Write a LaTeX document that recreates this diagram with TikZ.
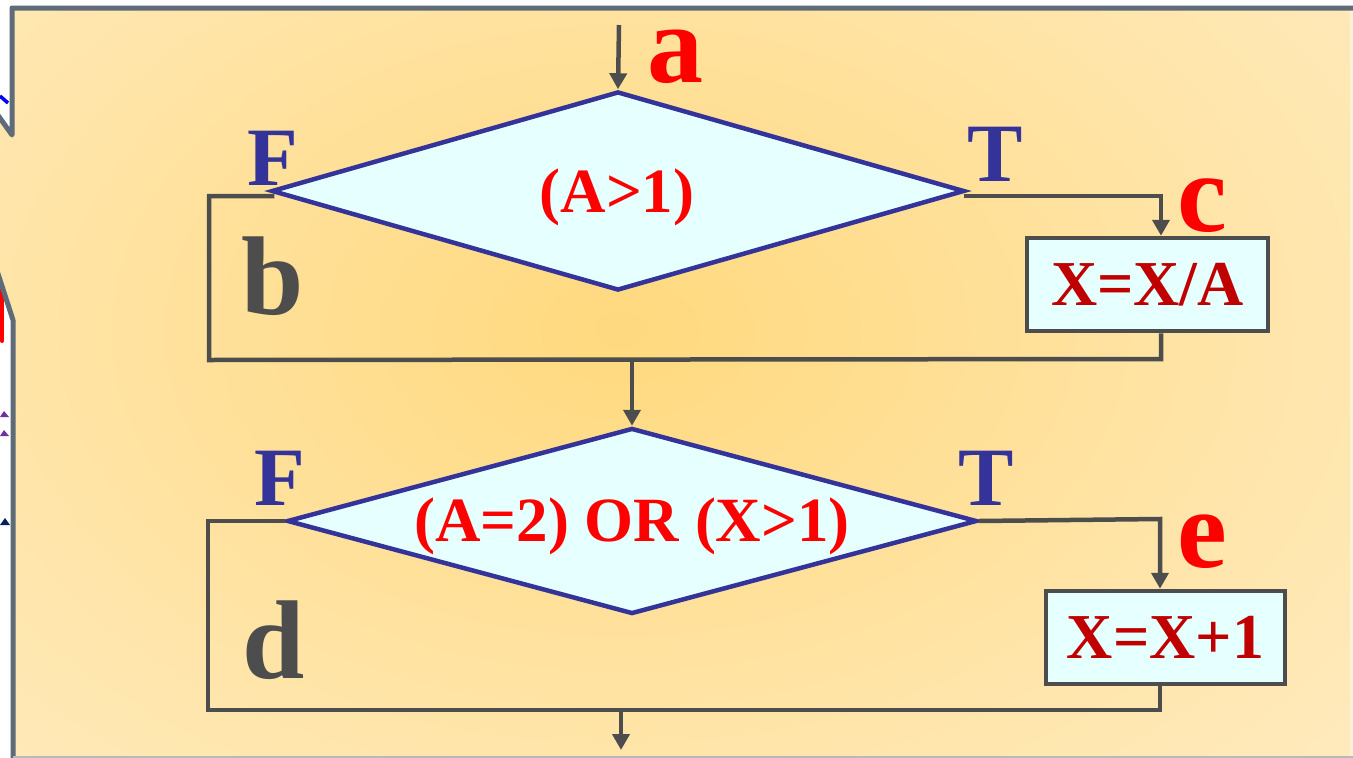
\documentclass[tikz,border=0pt]{standalone}
\usepackage{fontspec}
\setmainfont{Liberation Serif}
\newfontfamily\tms{Liberation Serif}
\usetikzlibrary{arrows.meta,shapes.geometric}
\definecolor{navyb}{HTML}{333399}
\definecolor{dgray}{HTML}{4D4D4D}
\definecolor{framec}{HTML}{5F6B78}
\definecolor{boxfill}{HTML}{E6FFFF}
\definecolor{dred}{HTML}{C00000}
\definecolor{glowin}{HTML}{FFD97E}
\definecolor{glowmid}{HTML}{FFE5AA}
\definecolor{glowout}{HTML}{FFF2D9}
\definecolor{purp}{HTML}{7030A0}
\definecolor{navyd}{HTML}{002060}
\pgfdeclareradialshading{glow}{\pgfpoint{0bp}{0bp}}{color(0bp)=(glowin); color(22bp)=(glowmid); color(50bp)=(glowout)}
\tikzset{
  dia/.style={shape=diamond, draw=navyb, fill=boxfill, line width=4.5pt, inner sep=0pt},
  proc/.style={draw=dgray, fill=boxfill, line width=4.5pt, inner sep=0pt, text=dred,
    font=\tms\fontsize{64}{70}\selectfont\bfseries},
  conn/.style={draw=dgray, line width=4.5pt},
  arr/.style={conn, -{Triangle[width=17pt,length=16pt]}},
  big/.style={font=\tms\fontsize{112}{120}\selectfont\bfseries, inner sep=0pt},
  tf/.style={font=\tms\fontsize{83}{90}\selectfont\bfseries, text=navyb, inner sep=0pt},
  cond/.style={font=\tms\fontsize{63}{70}\selectfont\bfseries, text=red, inner sep=0pt},
  framel/.style={draw=framec, line width=5pt, line join=round}
}
\begin{document}
\begin{tikzpicture}[x=1pt,y=-1pt]
\useasboundingbox (0,0) rectangle (1353,758);
\fill[white] (0,0) rectangle (1353,758);
% background glow inside the frame
\begin{scope}
  \clip (1360,8) -- (12,8) -- (12,135) -- (-10,104) -- (-10,249) -- (13,320) -- (13,770) -- (1360,770) -- cycle;
  \fill[glowout] (-20,-20) rectangle (1400,800);
  \shade[shading=glow] (-110,-160) rectangle (1350,820);
\end{scope}
% cut-off bits at the left edge
\draw[blue, line width=3.5pt] (0,96) -- (8,103);
\draw[red, line width=4pt, line cap=round] (2,290) -- (2,341);
\fill[purp] (0,417) -- (4,411) -- (9,417) -- cycle;
\fill[purp] (0,436) -- (4,430) -- (9,436) -- cycle;
\fill[navyd] (0,525) -- (5,518) -- (10,525) -- cycle;
% frame
\draw[framel] (1360,8) -- (12,8) -- (12,135) -- (-10,104);
\draw[framel] (-10,249) -- (13,320) -- (13,770);
\draw[gray!55, line width=1.5pt] (13,757) -- (1353,757);

% coordinates
\coordinate (top) at (619,25);
\coordinate (r1) at (1161,196);
\coordinate (r1b) at (1161,359);
\coordinate (l1b) at (209,360);
\coordinate (l1t) at (209,196);
\coordinate (m1) at (632,360);
\coordinate (r2) at (1160,519);
\coordinate (l2t) at (208,521);
\coordinate (l2b) at (208,710);
\coordinate (r2b) at (1160,710);
\coordinate (m2) at (621,710);
\coordinate (out) at (621,750);

% shapes
\node[dia, minimum width=693pt, minimum height=199pt] (d1) at (618,191) {};
\node[dia, minimum width=690pt, minimum height=186pt] (d2) at (632,521) {};
\node[proc, minimum width=241pt, minimum height=93pt] (b1) at (1147.5,284.5) {X=X/A};
\node[proc, minimum width=239pt, minimum height=93pt] (b2) at (1165.5,637.5) {X=X+1};

% condition texts
\node[cond] (c1) at (617,197) {(A>1)};
\node[cond] (c2) at (632,526) {(A=2) OR (X>1)};

% connectors
\draw[arr] (top) -- (d1.north);
\draw[arr] ([xshift=-3pt,yshift=-5pt]d1.east) -- (r1) -- (r1 |- b1.north);
\draw[conn] (r1 |- b1.south) -- (r1b) -- (l1b) -- (l1t) -- ([xshift=5pt,yshift=-5pt]d1.west);
\draw[arr] (m1) -- (d2.north);
\draw[arr] (d2.east) -- (r2) -- (r2 |- b2.north);
\draw[conn] (d2.west) -- (l2t) -- (l2b) -- (r2b) -- (r2b |- b2.south);
\draw[arr] (m2) -- (out);

% labels
\node[big, text=red] (la) at (675,57) {a};
\node[big, text=red] (lc) at (1202,206) {c};
\node[big, text=red] (le) at (1202,542) {e};
\node[big, text=dgray] (lb) at (273,276) {b};
\node[big, text=dgray] (ld) at (274,640) {d};
\node[tf] (f1) at (273,158) {F};
\node[tf] (t1) at (995,154) {T};
\node[tf] (f2) at (280,478) {F};
\node[tf] (t2) at (986,478) {T};
\end{tikzpicture}
\end{document}
